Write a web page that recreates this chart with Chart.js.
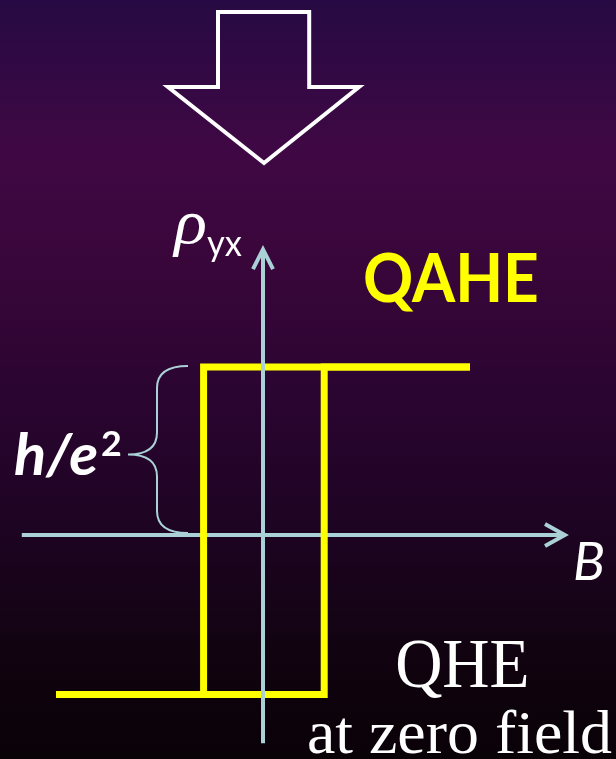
<!DOCTYPE html>
<html>
<head>
<meta charset="utf-8">
<script src="https://cdn.jsdelivr.net/npm/chart.js"></script>
<style>
  html, body { margin: 0; padding: 0; background: #000; overflow: hidden; }
  canvas { display: block; }
</style>
</head>
<body>
<canvas id="c" width="616" height="759"></canvas>
<script>
// ---- Data (B in units of the coercive field, rho_yx in units of h/e^2) ----
const fieldUp   = [-3.45, 1.02, 1.02, 3.45];   // increasing-field branch
const rhoUp     = [-0.95, -0.95, 1, 1];
const fieldDown = [3.45, -0.99, -0.99, -3.45]; // decreasing-field branch
const rhoDown   = [1, 1, -0.95, -0.95];

const axisBRange   = [-4.02, 5.03];  // horizontal (B) axis extent
const axisRhoRange = [-1.24, 1.70];  // vertical (rho_yx) axis extent
const arrowBHead   = [4.70, 5.03, 4.70];
const arrowBHeadR  = [0.0655, 0, -0.0655];
const arrowRHeadB  = [-0.167, 0, 0.167];
const arrowRHead   = [1.583, 1.70, 1.583];

// big "down" arrow outline at the top
const bigArrowB   = [0.01, 0.77, 0.77, 1.60, 0.017, -1.583, -0.75, -0.75, 0.01];
const bigArrowRho = [3.113, 3.113, 2.667, 2.667, 2.214, 2.667, 2.667, 3.113, 3.113];

const braceSpan = [0, 1];             // rho range marked h/e^2
const labels = { rho: "\u03C1", rhoSub: "yx", qahe: "QAHE", he: "h/e", heSup: "2", b: "B", qhe: "QHE", zero: "at zero field" };

const zip = (xs, ys) => xs.map((x, i) => ({ x: x, y: ys[i] }));

const AXIS_COL = "#a9d1d6";
const YEL = "#ffff00";

const bgPlugin = {
  id: "bg",
  beforeDraw(chart) {
    const c = chart.ctx, h = chart.height, w = chart.width;
    const g = c.createLinearGradient(0, 0, 0, h);
    g.addColorStop(0.00, "#270a43");
    g.addColorStop(0.20, "#3f0844");
    g.addColorStop(0.35, "#39063a");
    g.addColorStop(0.50, "#2c0532");
    g.addColorStop(0.70, "#1d0422");
    g.addColorStop(0.86, "#110310");
    g.addColorStop(1.00, "#090207");
    c.save(); c.fillStyle = g; c.fillRect(0, 0, w, h); c.restore();
  }
};

function fitText(c, txt, inkLeft, baseline, font, color, inkWidth) {
  c.save();
  c.font = font;
  c.fillStyle = color;
  c.textAlign = "left";
  c.textBaseline = "alphabetic";
  const m = c.measureText(txt);
  const ink = m.actualBoundingBoxRight + m.actualBoundingBoxLeft;
  const sx = inkWidth ? inkWidth / ink : 1;
  c.translate(inkLeft + m.actualBoundingBoxLeft * sx, baseline);
  c.scale(sx, 1);
  c.fillText(txt, 0, 0);
  c.restore();
}

const annoPlugin = {
  id: "anno",
  afterDatasetsDraw(chart) {
    const c = chart.ctx;
    const xs = chart.scales.x, ys = chart.scales.y;
    // brace for h/e^2
    const yTop = ys.getPixelForValue(braceSpan[1]) - 1;
    const yBot = ys.getPixelForValue(braceSpan[0]) - 2;
    const yMid = (yTop + yBot) / 2 + 5;
    const xr = xs.getPixelForValue(-1.25);
    const xm = xr - 31, xt = xr - 60, r = 22;
    c.save();
    c.strokeStyle = AXIS_COL; c.lineWidth = 2;
    c.beginPath();
    c.moveTo(xr, yTop);
    c.quadraticCurveTo(xm, yTop, xm, yTop + r);
    c.lineTo(xm, yMid - r);
    c.quadraticCurveTo(xm, yMid, xt, yMid);
    c.quadraticCurveTo(xm, yMid, xm, yMid + r);
    c.lineTo(xm, yBot - r);
    c.quadraticCurveTo(xm, yBot, xr, yBot);
    c.stroke();
    c.restore();

    // text labels
    fitText(c, labels.rho, 172, 243, "italic 64px 'Liberation Serif'", "#ffffff", 33);
    fitText(c, labels.rhoSub, 207, 256, "36px Lato", "#ffffff", 35);
    fitText(c, labels.qahe, 365, 302, "bold 66px Lato", YEL, 172);
    fitText(c, labels.he, 15, 475, "italic bold 58px Lato", "#ffffff", 82);
    fitText(c, labels.heSup, 102, 456, "bold 34px Lato", "#ffffff", 19);
    fitText(c, labels.b, 575, 580, "italic 53px Lato", "#ffffff", 28);
    fitText(c, labels.qhe, 397, 687, "70px 'Liberation Serif'", "#ffffff", 130);
    fitText(c, labels.zero, 309, 753, "62px 'Liberation Serif'", "#ffffff", 303);
  }
};

const lineDs = (data, color, width, order) => ({
  data: data, showLine: true, borderColor: color, borderWidth: width,
  pointRadius: 0, pointHoverRadius: 0, fill: false, tension: 0,
  borderJoinStyle: "miter", borderCapStyle: "butt", order: order
});

new Chart(document.getElementById("c"), {
  type: "scatter",
  data: {
    datasets: [
      lineDs(zip([0, 0], axisRhoRange), AXIS_COL, 4, 1),
      lineDs(zip(arrowRHeadB, arrowRHead), AXIS_COL, 4, 1),
      lineDs(zip(fieldUp, rhoUp), YEL, 7, 2),
      lineDs(zip(fieldDown, rhoDown), YEL, 7, 2),
      lineDs(zip(axisBRange, [0, 0]), AXIS_COL, 4, 3),
      lineDs(zip(arrowBHead, arrowBHeadR), AXIS_COL, 4, 3),
      lineDs(zip(bigArrowB, bigArrowRho), "#ffffff", 4, 4)
    ]
  },
  options: {
    responsive: false,
    animation: false,
    devicePixelRatio: 1,
    events: [],
    layout: { padding: 0 },
    plugins: { legend: { display: false }, tooltip: { enabled: false }, title: { display: false } },
    scales: {
      x: { type: "linear", min: -263 / 60, max: 353 / 60, display: false },
      y: { type: "linear", min: (535 - 759) / 168, max: 535 / 168, display: false }
    }
  },
  plugins: [bgPlugin, annoPlugin]
});
</script>
</body>
</html>
